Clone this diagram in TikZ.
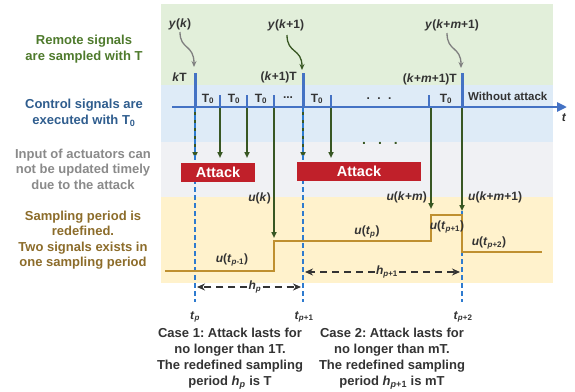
\documentclass[tikz,border=0pt]{standalone}
\usepackage{fontspec}
\setmainfont{Liberation Sans}
\usetikzlibrary{arrows.meta}
\definecolor{bgG}{HTML}{E2EFDA}
\definecolor{bgB}{HTML}{DEEBF7}
\definecolor{bgK}{HTML}{F0F1F4}
\definecolor{bgY}{HTML}{FFF2CC}
\definecolor{axB}{HTML}{4472C4}
\definecolor{dashB}{HTML}{2E7BCF}
\definecolor{arG}{HTML}{385723}
\definecolor{arK}{HTML}{7F7F7F}
\definecolor{atR}{HTML}{C0202A}
\definecolor{stepY}{HTML}{BF9030}
\definecolor{txG}{HTML}{4E7A2C}
\definecolor{txB}{HTML}{2F5D8E}
\definecolor{txK}{HTML}{8A8A8A}
\definecolor{txY}{HTML}{8C6C2A}
\definecolor{txD}{HTML}{333333}
\frenchspacing
\begin{document}
\begin{tikzpicture}[x=1pt,y=-1pt,
  lab/.style={font=\bfseries\fontsize{13}{15.5}\selectfont, align=center, inner sep=0pt},
  sm/.style={font=\bfseries\fontsize{12}{14}\selectfont, text=txD, inner sep=1pt},
  tall/.style={axB, line width=3pt},
  short/.style={axB, line width=2.5pt},
  garrow/.style={arG, line width=1.5pt, -{Triangle[length=6pt,width=5pt]}},
  bdash/.style={dashB, line width=1.8pt, dash pattern=on 5pt off 3pt},
  attackbox/.style={fill=atR, text=white, font=\bfseries\fontsize{14.5}{16}\selectfont, minimum height=19pt, inner sep=0pt},
  harrow/.style={txD, line width=1.3pt, dash pattern=on 7pt off 5pt, -{Stealth[length=8pt,width=7pt]}},
  curvK/.style={arK, line width=1.3pt, -{Stealth[length=6pt,width=5pt]}},
  curvG/.style={arG, line width=1.3pt, -{Stealth[length=6pt,width=5pt]}},
  stepline/.style={stepY, line width=2.8pt}
  ]
\useasboundingbox (0,0) rectangle (575,391);
% bands
\fill[bgG] (161,4) rectangle (553,85);
\fill[bgB] (161,85) rectangle (553,142);
\fill[bgK] (161,142) rectangle (553,197);
\fill[bgY] (161,197) rectangle (553,283);
% left labels
\node[lab, text=txG] (l1) at (84,49) {Remote signals\\are sampled with T};
\node[lab, text=txB] (l2) at (84,113) {Control signals are\\executed with T\textsubscript{0}};
\node[lab, text=txK] (l3) at (83,169) {Input of actuators can\\not be updated timely\\due to the attack};
\node[lab, text=txY] (l4) at (83,240) {Sampling period is\\redefined.\\Two signals exists in\\one sampling period};
% axis coordinates
\coordinate (a0) at (172,107);
\coordinate (a1) at (567,107);
\foreach \n/\x in {kT/195, s1/220, s2/247, s3/274, k1/303, s4/331, s5/429, km/462}
  {\coordinate (\n) at (\x,107);}
% green arrows (under blue dashes)
\coordinate (kTb) at (195,158);
\coordinate (s1b) at (220,158);
\coordinate (s2b) at (247,158);
\coordinate (k1b) at (303,158);
\coordinate (s4b) at (331,158);
\coordinate (s3b) at (274,238);
\coordinate (s5b) at (431,209);
\coordinate (kmb) at (462,211);
\coordinate (tpB) at (195,302);
\coordinate (tqB) at (303,302);
\coordinate (trB) at (462,302);
\draw[bdash] (km) -- (trB);
\draw[garrow] (kT) -- (kTb);
\draw[garrow] (k1) -- (k1b);
\draw[bdash] (kT) -- (tpB);
\draw[bdash] (k1) -- (tqB);
\draw[garrow] (s1) -- (s1b);
\draw[garrow] (s2) -- (s2b);
\draw[garrow] (s4) -- (s4b);
\draw[garrow] (s3) -- (s3b);
\draw[garrow] (431,107) -- (s5b);
\draw[garrow] (km) -- (kmb);
% axis and ticks
\draw[axB, line width=2.6pt, -{Triangle[length=10pt,width=9pt]}] (a0) -- (a1);
\draw[tall] (kT) -- ++(0,-34) coordinate (kTt);
\draw[tall] (k1) -- ++(0,-34) coordinate (k1t);
\draw[tall] (km) -- ++(0,-34) coordinate (kmt);
\draw[short] (s1) -- ++(0,-12);
\draw[short] (s2) -- ++(0,-12);
\draw[short] (s3) -- ++(0,-12);
\draw[short] (s4) -- ++(0,-12);
\draw[short] (s5) -- ++(0,-12);
% axis labels
\node[sm] (T1) at (208,99) {T\textsubscript{0}};
\node[sm] (T2) at (234,99) {T\textsubscript{0}};
\node[sm] (T3) at (261,99) {T\textsubscript{0}};
\node[sm] (d1) at (288,98) {...};
\node[sm] (T4) at (317,99) {T\textsubscript{0}};
\node[sm] (d2) at (379,99) {.\hspace{7.5pt}.\hspace{7.5pt}.};
\node[sm] (T5) at (446,99) {T\textsubscript{0}};
\node[sm, anchor=west, font=\bfseries\fontsize{11.5}{13}\selectfont] (wa) at (467,96) {Without attack};
\node[sm] (tt) at (564,118) {\textit{t}};
\node[sm, anchor=east] (kTl) at (188,77) {\textit{k}T};
\node[sm, anchor=east] (k1l) at (298,77) {(\textit{k}+1)T};
\node[sm, anchor=east] (kml) at (458,79) {(\textit{k}+\textit{m}+1)T};
% y labels with curved arrows
\node[sm] (yk) at (180,24) {\textit{y}(\textit{k})};
\node[sm] (yk1) at (286,25) {\textit{y}(\textit{k}+1)};
\node[sm] (ykm) at (452,25) {\textit{y}(\textit{k}+\textit{m}+1)};
\coordinate (kTa) at (194,67);
\coordinate (k1a) at (302,70);
\coordinate (kma) at (461,68);
\draw[curvK] (180,32) .. controls (180,50) and (194,44) .. (kTa);
\draw[curvG] (287,35) .. controls (287,54) and (302,48) .. (k1a);
\draw[curvK] (447,33) .. controls (447,52) and (461,46) .. (kma);
% dots in grey band
\node[sm, text=arG, font=\bfseries\fontsize{14}{16}\selectfont] (d3) at (380,143) {.\hspace{12pt}.\hspace{12pt}.};
% attack boxes
\node[attackbox, minimum width=74pt] (att1) at (218,172.5) {Attack};
\node[attackbox, minimum width=124pt] (att2) at (359,171.5) {Attack};
% u labels
\node[sm, anchor=east] (uk) at (272,198) {\textit{u}(\textit{k})};
\node[sm, anchor=east] (ukm) at (428,197) {\textit{u}(\textit{k}+\textit{m})};
\node[sm, anchor=west] (ukm1) at (467,197) {\textit{u}(\textit{k}+\textit{m}+1)};
% step signal
\coordinate (st0) at (165,271);
\coordinate (st1) at (274,241);
\coordinate (st2) at (431,215);
\coordinate (st3) at (462,252);
\coordinate (st4) at (542,252);
\draw[stepline] (st0) -| (st1) -| (st2) -| (st3) -- (st4);
\node[sm] (u0) at (232,260) {\textit{u}(\textit{t}\textsubscript{\textit{p}-1})};
\node[sm] (u1) at (367,232) {\textit{u}(\textit{t}\textsubscript{\textit{p}})};
\node[sm] (u2) at (447,227) {\textit{u}(\textit{t}\textsubscript{\textit{p}+1})};
\node[sm] (u3) at (489,243) {\textit{u}(\textit{t}\textsubscript{\textit{p}+2})};
% h arrows
\node[sm] (hp) at (255,287) {\textit{h}\textsubscript{\textit{p}}};
\coordinate (hpL) at (197,287);
\coordinate (hpR) at (301,287);
\draw[harrow] (hp.west) -- (hpL);
\draw[harrow] (hp.east) -- (hpR);
\node[sm] (hq) at (387,272) {\textit{h}\textsubscript{\textit{p}+1}};
\coordinate (hqL) at (305,272);
\coordinate (hqR) at (460,272);
\draw[harrow] (hq.west) -- (hqL);
\draw[harrow] (hq.east) -- (hqR);
% t labels
\node[sm] (tp) at (195,317) {\textit{t}\textsubscript{\textit{p}}};
\node[sm] (tq) at (304,317) {\textit{t}\textsubscript{\textit{p}+1}};
\node[sm] (tr) at (463,317) {\textit{t}\textsubscript{\textit{p}+2}};
% case texts
\node[lab, text=txD, font=\bfseries\fontsize{13}{16}\selectfont] (c1) at (230,359) {Case 1: Attack lasts for\\no longer than 1T.\\The redefined sampling\\period \textit{h}\textsubscript{\textit{p}} is T};
\node[lab, text=txD, font=\bfseries\fontsize{13}{16}\selectfont] (c2) at (392,359) {Case 2: Attack lasts for\\no longer than mT.\\The redefined sampling\\period \textit{h}\textsubscript{\textit{p}+1} is mT};
\end{tikzpicture}
\end{document}
